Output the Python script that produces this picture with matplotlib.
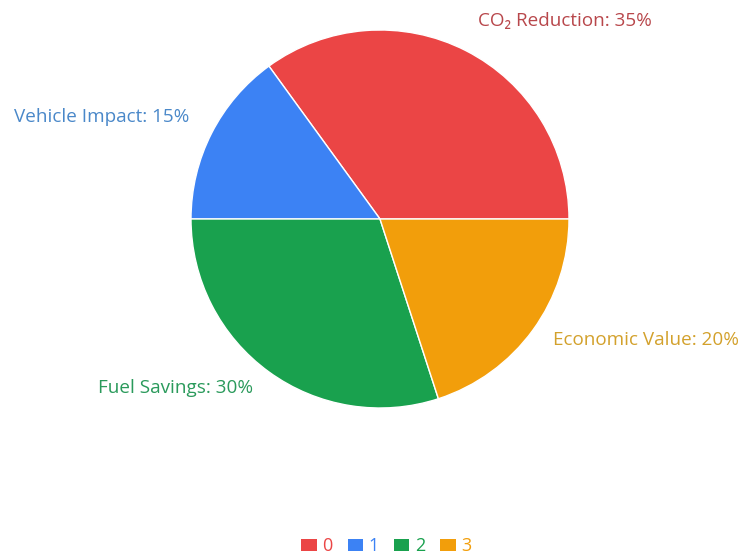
import matplotlib
matplotlib.use("Agg")
import matplotlib.pyplot as plt

# Share of benefits by category
categories = ["CO₂ Reduction", "Vehicle Impact", "Fuel Savings", "Economic Value"]
shares = [35, 15, 30, 20]
legend_labels = ["0", "1", "2", "3"]

slice_colors = ["#EB4545", "#3C82F4", "#19A14E", "#F29E0B"]
label_colors = ["#B8474B", "#4A88C9", "#2A9A5B", "#D3A12C"]

# label anchor points (data units, pie radius = 1)
label_pos = [(0.98, 1.045), (-1.475, 0.54), (-1.08, -0.895), (1.41, -0.64)]

plt.rcParams["font.family"] = ["Open Sans", "DejaVu Sans"]

fig = plt.figure(figsize=(7.5, 5.54), dpi=100)
W, H = 750, 554
cx, cy, r = 380, 219, 189
ax = fig.add_axes([(cx - r) / W, (H - cy - r) / H, 2 * r / W, 2 * r / H])

wedges, _ = ax.pie(
    shares,
    colors=slice_colors,
    startangle=0,
    counterclock=True,
    radius=1,
    wedgeprops=dict(edgecolor="white", linewidth=1.0),
)
ax.set_xlim(-1, 1)
ax.set_ylim(-1, 1)
ax.set_aspect("equal")
ax.axis("off")

for name, val, (lx, ly), c in zip(categories, shares, label_pos, label_colors):
    ax.text(lx, ly, f"{name}: {val}%", color=c, fontsize=13.6,
            ha="center", va="center", clip_on=False)

leg = fig.legend(
    wedges, legend_labels, loc="center", bbox_to_anchor=(0.515, 1 - 546 / H),
    ncol=4, frameon=False, fontsize=13, handlelength=0.85, handleheight=0.65,
    handletextpad=0.3, columnspacing=0.85,
)
for t, c in zip(leg.get_texts(), slice_colors):
    t.set_color(c)
for h in leg.legend_handles:
    h.set_edgecolor("none")

fig.savefig("out.png", dpi=100)
